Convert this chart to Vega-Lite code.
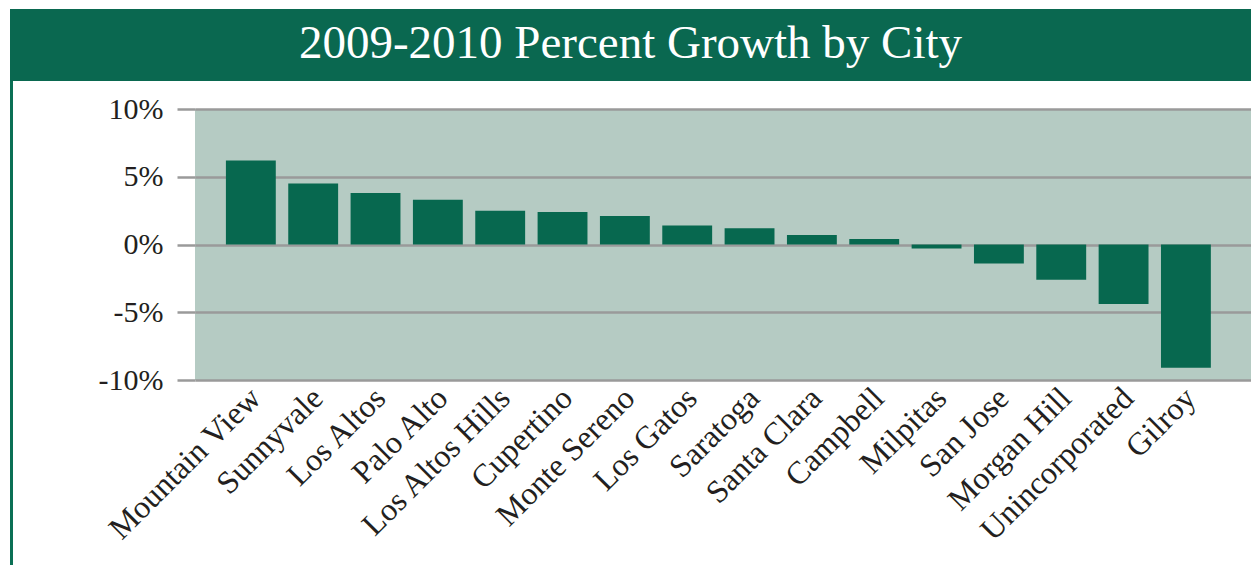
{
  "$schema": "https://vega.github.io/schema/vega-lite/v6.json",
  "background": "white",
  "padding": {"left": 10, "top": 9, "right": 0, "bottom": 0},
  "autosize": {"type": "pad"},
  "config": {"view": {"stroke": null}},
  "bounds": "flush",
  "spacing": 0,
  "vconcat": [
    {
      "width": 1241,
      "height": 72,
      "view": {"fill": "#0a6850", "stroke": null},
      "data": {"values": [{"title": "2009-2010 Percent Growth by City"}]},
      "mark": {"type": "text", "font": "Liberation Serif", "fontSize": 47, "color": "white", "baseline": "middle", "align": "center", "dy": -1},
      "encoding": {"text": {"field": "title"}}
    },
    {
      "bounds": "flush",
      "spacing": 182,
      "hconcat": [
        {
          "width": 3,
          "height": 484,
          "view": {"fill": "#0b7055", "stroke": null},
          "data": {"values": [{"a": 1}]},
          "mark": {"type": "text"},
          "encoding": {"text": {"value": ""}}
        },
        {
          "bounds": "flush",
          "spacing": 27,
          "vconcat": [
            {
              "width": 1056,
              "height": 1,
              "data": {"values": [{"a": 1}]},
              "mark": {"type": "text"},
              "encoding": {"text": {"value": ""}}
            },
            {
              "width": 1056,
              "height": 271,
              "view": {"fill": "#b5cbc3", "stroke": null},
              "data": {"values": [
                {"city": "Mountain View", "growth": 6.2},
                {"city": "Sunnyvale", "growth": 4.5},
                {"city": "Los Altos", "growth": 3.8},
                {"city": "Palo Alto", "growth": 3.3},
                {"city": "Los Altos Hills", "growth": 2.5},
                {"city": "Cupertino", "growth": 2.4},
                {"city": "Monte Sereno", "growth": 2.1},
                {"city": "Los Gatos", "growth": 1.4},
                {"city": "Saratoga", "growth": 1.2},
                {"city": "Santa Clara", "growth": 0.7},
                {"city": "Campbell", "growth": 0.4},
                {"city": "Milpitas", "growth": -0.3},
                {"city": "San Jose", "growth": -1.4},
                {"city": "Morgan Hill", "growth": -2.6},
                {"city": "Unincorporated", "growth": -4.4},
                {"city": "Gilroy", "growth": -9.1}
              ]},
              "mark": {"type": "bar", "color": "#07684f"},
              "encoding": {
                "x": {
                  "field": "city",
                  "type": "nominal",
                  "sort": null,
                  "scale": {"paddingInner": 0.2, "paddingOuter": 0.57, "align": 0.435},
                  "axis": {"title": null, "labelAngle": -45, "labelFont": "Liberation Serif", "labelFontSize": 32, "labelColor": "#231f20", "labelLimit": 0, "ticks": false, "domain": false, "labelPadding": 2, "labelOffset": -6, "labelOverlap": false}
                },
                "y": {
                  "field": "growth",
                  "type": "quantitative",
                  "scale": {"domain": [-10, 10], "nice": false},
                  "axis": {"values": [-10, -5, 0, 5, 10], "labelExpr": "datum.value + '%'", "title": null, "grid": true, "gridColor": "#9a9a9a", "gridWidth": 2.5, "tickColor": "#9a9a9a", "tickWidth": 2.5, "tickSize": 18, "domain": false, "labelPadding": 14, "labelFont": "Liberation Serif", "labelFontSize": 30, "labelColor": "#231f20"}
                }
              }
            }
          ]
        }
      ]
    }
  ]
}
